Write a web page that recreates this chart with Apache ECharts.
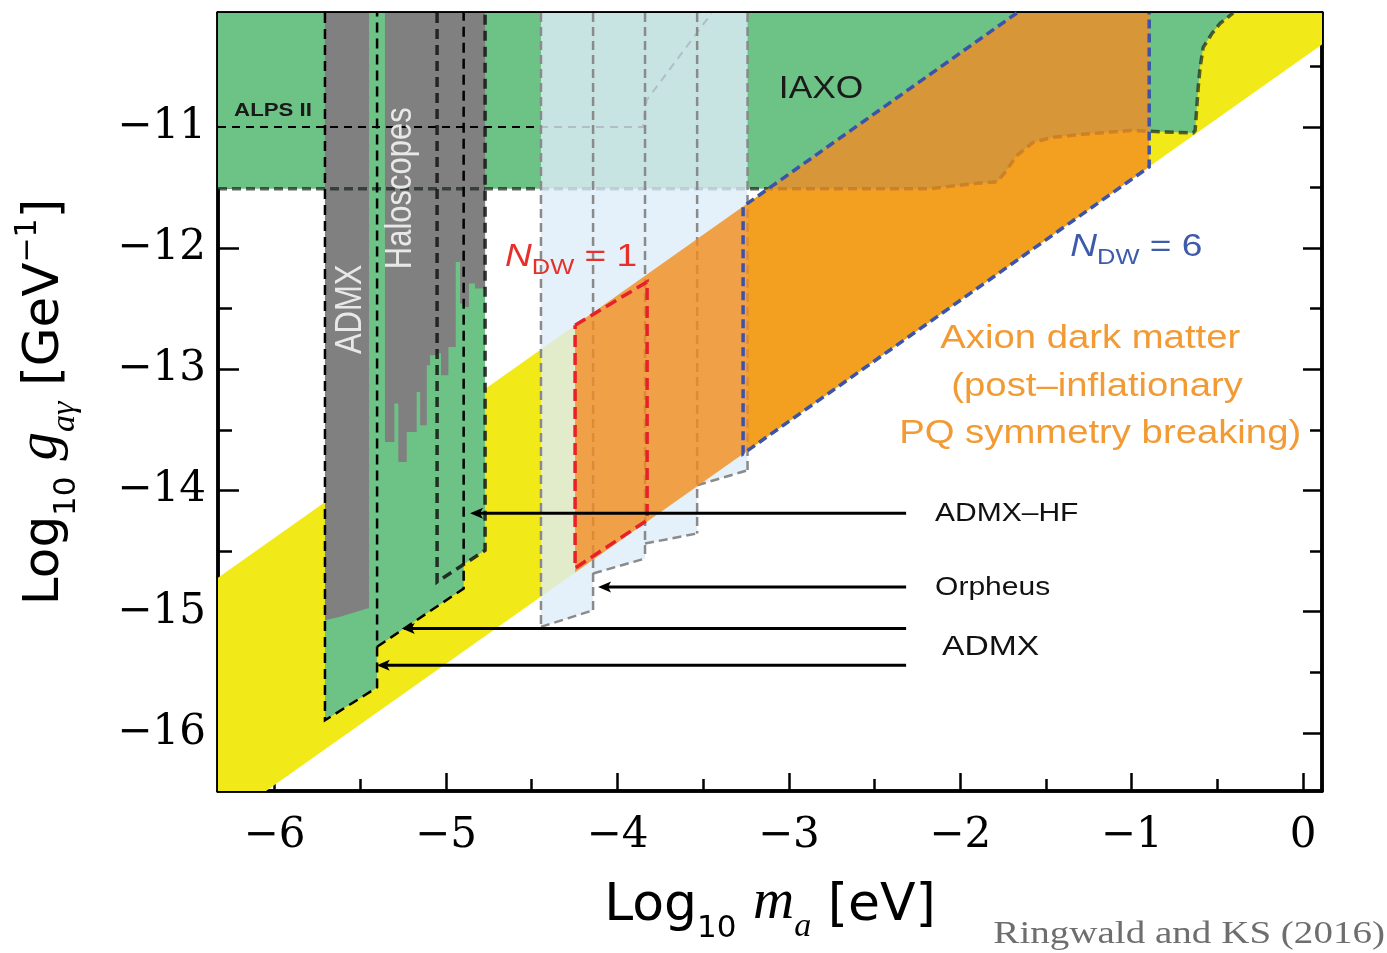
<!DOCTYPE html>
<html><head><meta charset="utf-8">
<script src="https://cdn.jsdelivr.net/npm/echarts@6/dist/echarts.min.js"></script>
<style>html,body{margin:0;padding:0;background:#fff}#c{width:1387px;height:953px}</style>
</head><body><div id="c"></div>
<script>
// ---------- axes ----------
const xRange = [-6.33, 0.11];
const yRange = [-16.48, -10.06];
const xMajorTicks = [-6, -5, -4, -3, -2, -1, 0];
const xMinorTicks = [-5.5, -4.5, -3.5, -2.5, -1.5, -0.5];
const yMajorTicks = [-16, -15, -14, -13, -12, -11];
const yMinorTicks = [-15.5, -14.5, -13.5, -12.5, -11.5, -10.5];

// ---------- regions (log10 m_a [eV], log10 g [GeV^-1]) ----------
const yellowBand = [[-6.33,-14.72],[-1.67,-10.06],[0.11,-10.06],[0.11,-10.32],[-6.05,-16.48],[-6.33,-16.48]];
const iaxoRegion = [[-6.33,-10.06],[-6.33,-11.51],[-2.176,-11.51],[-1.902,-11.465],[-1.785,-11.454],[-1.738,-11.374],
  [-1.674,-11.242],[-1.575,-11.127],[-1.458,-11.086],[-1.283,-11.061],[-1.009,-11.03],[-0.642,-11.05],[-0.63,-11.03],
  [-0.612,-10.673],[-0.601,-10.508],[-0.583,-10.343],[-0.531,-10.228],[-0.484,-10.145],[-0.408,-10.06]];
const alpsLine = [[-6.33,-11.0],[-3.85,-11.0],[-3.83,-10.78],[-3.45,-10.06]];
const admxFutureA = [[-5.706,-10.06],[-5.706,-15.897],[-5.402,-15.625],[-5.402,-10.06]];
const admxFutureB = [[-5.402,-10.06],[-5.402,-15.29],[-4.897,-14.809],[-4.897,-10.06]];
const admxHF = [[-5.052,-10.06],[-5.052,-14.755],[-4.772,-14.494],[-4.772,-10.06]];
const admxGrey = [[-5.706,-10.06],[-5.706,-15.07],[-5.618,-15.043],[-5.449,-14.97],[-5.449,-10.06]];
const haloEdges = [-5.356,-5.301,-5.278,-5.229,-5.171,-5.151,-5.112,-5.093,-5.054,-5.029,-4.986,-4.943,-4.918,-4.889,-4.866,-4.831,-4.772];
const haloBottom = [-13.60,-13.283,-13.765,-13.517,-13.187,-13.462,-12.967,-12.884,-12.868,-13.049,-12.816,-12.114,-12.458,-12.486,-12.293,-12.334];
const stripEdges = [-4.446,-4.142,-3.839,-3.535,-3.241];
const stripBottomLeft = [-15.126,-14.685,-14.438,-13.957];
const stripBottomRight = [-14.988,-14.562,-14.355,-13.833];
const axionDM = [[-4.247,-12.637],[-1.67,-10.06],[-0.898,-10.06],[-0.898,-11.33],[-4.247,-14.677]];
const ndw6Outline = [[-1.67,-10.06],[-3.267,-11.657],[-3.267,-13.697],[-0.898,-11.33],[-0.898,-10.06]];
const ndw1Outline = [[-4.247,-12.636],[-3.827,-12.279],[-3.827,-14.246],[-4.247,-14.641],[-4.247,-12.636]];
const arrowY = [-14.188, -14.796, -15.14, -15.442];
const arrowTipX = [-4.86, -4.113, -5.258, -5.404];
const arrowStartX = -2.316;

// ---------- labels ----------
const labels = [
  {text:'IAXO', x:-2.812, y:-10.69, size:31, color:'#1a1a1a', align:'center', sx:1.14},
  {text:'ALPS II', x:-6.009, y:-10.863, size:19, weight:'bold', color:'#1a1a1a', align:'center', sx:1.17},
  {text:'ADMX', x:-5.554, y:-12.505, size:31, color:'#e8e8e8', align:'center', rot:true},
  {text:'Haloscopes', x:-5.262, y:-11.506, size:31, color:'#e8e8e8', align:'center', rot:true},
  {text:'{N|N}{s|DW}{t| = 1}', x:-4.656, y:-12.10, size:32, color:'#e8302a', align:'left', sx:1.16, rich:true},
  {text:'{N|N}{s|DW}{t| = 6}', x:-1.359, y:-12.018, size:32, color:'#3d5baa', align:'left', sx:1.16, rich:true},
  {text:'Axion dark matter', x:-1.242, y:-12.752, size:33, color:'#f29a33', align:'center', sx:1.16},
  {text:'(post\u2013inflationary', x:-1.202, y:-13.148, size:33, color:'#f29a33', align:'center', sx:1.16},
  {text:'PQ symmetry breaking)', x:-1.184, y:-13.536, size:33, color:'#f29a33', align:'center', sx:1.16},
  {text:'ADMX\u2013HF', x:-2.147, y:-14.196, size:25, color:'#111', align:'left', sx:1.2},
  {text:'Orpheus', x:-2.147, y:-14.807, size:25, color:'#111', align:'left', sx:1.2},
  {text:'ADMX', x:-2.106, y:-15.293, size:28, color:'#111', align:'left', sx:1.2}
];

// ---------- helpers ----------
function polySeries(points, style) {
  return {type:'custom', coordinateSystem:'cartesian2d', silent:true, animation:false,
    data:[points[0]],
    renderItem: (params, api) => ({type:'polygon', shape:{points: points.map(p => api.coord(p))}, style: Object.assign({}, style)})};
}
function lineSeries(points, style) {
  return {type:'custom', coordinateSystem:'cartesian2d', silent:true, animation:false,
    data:[points[0]],
    renderItem: (params, api) => ({type:'polyline', shape:{points: points.map(p => api.coord(p))}, style: Object.assign({fill:'none'}, style)})};
}
const yTop = yRange[1];
const haloPoly = [[haloEdges[0], yTop]];
haloBottom.forEach((b, i) => { haloPoly.push([haloEdges[i], b]); haloPoly.push([haloEdges[i+1], b]); });
haloPoly.push([haloEdges[haloEdges.length-1], yTop]);

const stripPolys = stripBottomLeft.map((bl, i) => [[stripEdges[i], yTop],[stripEdges[i], bl],[stripEdges[i+1], stripBottomRight[i]],[stripEdges[i+1], yTop]]);
const stripLines = [];
stripEdges.forEach((x, i) => {
  const lows = [];
  if (i > 0) lows.push(stripBottomRight[i-1]);
  if (i < stripBottomLeft.length) lows.push(stripBottomLeft[i]);
  stripLines.push([[x, yTop],[x, Math.min(...lows)]]);
});
stripBottomLeft.forEach((bl, i) => stripLines.push([[stripEdges[i], bl],[stripEdges[i+1], stripBottomRight[i]]]));

const dashBlack = {stroke:'#000', lineWidth:2.5, lineDash:[10,6]};
const series = [];
series.push(polySeries(yellowBand, {fill:'#f2ea18'}));
series.push(polySeries(iaxoRegion, {fill:'#6dc286'}));
[admxFutureA, admxFutureB, admxHF].forEach(p => series.push(polySeries(p, {fill:'#6dc286'})));
series.push(polySeries(admxGrey, {fill:'#808080'}));
series.push(polySeries(haloPoly, {fill:'#808080'}));
series.push(lineSeries(iaxoRegion.slice(1), {stroke:'rgba(25,35,25,0.7)', lineWidth:3.5, lineDash:[9,5]}));
series.push(lineSeries(alpsLine, {stroke:'#000', lineWidth:2, lineDash:[8,6]}));
series.push(lineSeries(admxFutureA, dashBlack));
series.push(lineSeries(admxFutureB.slice(1), dashBlack));
series.push(lineSeries(admxHF, {stroke:'rgba(20,20,20,0.85)', lineWidth:3.5, lineDash:[10,6]}));
stripPolys.forEach(p => series.push(polySeries(p, {fill:'rgba(221,236,249,0.8)'})));
stripLines.forEach(l => series.push(lineSeries(l, {stroke:'#8a8a8a', lineWidth:2.5, lineDash:[9,5]})));
series.push(polySeries(axionDM, {fill:'rgba(243,139,36,0.79)'}));
series.push(lineSeries(ndw1Outline, {stroke:'#e8202a', lineWidth:3.5, lineDash:[12,6]}));
series.push(lineSeries(ndw6Outline, {stroke:'#3b54a8', lineWidth:3.5, lineDash:[9,5]}));

// arrows
series.push({type:'custom', coordinateSystem:'cartesian2d', silent:true, animation:false,
  data: arrowY.map((y, i) => [arrowTipX[i], y]),
  renderItem: (params, api) => {
    const i = params.dataIndex;
    const a = api.coord([arrowStartX, arrowY[i]]);
    const b = api.coord([arrowTipX[i], arrowY[i]]);
    return {type:'group', children:[
      {type:'line', shape:{x1:a[0], y1:a[1], x2:b[0]+8, y2:b[1]}, style:{stroke:'#000', lineWidth:3}},
      {type:'polygon', shape:{points:[[b[0], b[1]],[b[0]+13, b[1]-5.5],[b[0]+10, b[1]],[b[0]+13, b[1]+5.5]]}, style:{fill:'#000'}}
    ]};
  }});

// labels
series.push({type:'custom', coordinateSystem:'cartesian2d', silent:true, animation:false,
  data: labels.map(l => [l.x, l.y]),
  renderItem: (params, api) => {
    const L = labels[params.dataIndex];
    const p = api.coord([L.x, L.y]);
    const style = {text:L.text, fill:L.color, fontSize:L.size, fontFamily:'Liberation Sans, Arial, sans-serif',
      fontWeight:L.weight || 'normal', align:L.align, verticalAlign:'middle', x:0, y:0};
    if (L.rich) {
      style.rich = {
        N:{fontStyle:'italic', fontSize:L.size, fill:L.color, color:L.color, fontFamily:'Liberation Sans', padding:[0,0,6,0], verticalAlign:'bottom'},
        s:{fontSize:Math.round(L.size*0.68), fill:L.color, color:L.color, fontFamily:'Liberation Sans', verticalAlign:'bottom'},
        t:{fontSize:L.size, fill:L.color, color:L.color, fontFamily:'Liberation Sans', padding:[0,0,6,0], verticalAlign:'bottom'}
      };
    }
    const el = {type:'text', x:p[0], y:p[1], style};
    if (L.rot) { el.rotation = Math.PI/2; el.scaleY = 1.2; }
    else if (L.sx) { el.scaleX = L.sx; }
    return el;
  }});

const fmt = v => (v < 0 ? '\u2212' + (-v) : String(v));
const axisLineStyle = {color:'#000', width:3.5};
const tickStyle = {color:'#000', width:2.5};
function xAx(pos, ticks, len, showLabel, extra) {
  return Object.assign({type:'value', min:xRange[0], max:xRange[1], position:pos,
    axisLine:{show:true, onZero:false, lineStyle:axisLineStyle},
    axisTick:{show:true, inside:true, length:len, lineStyle:tickStyle, customValues:ticks},
    axisLabel:showLabel ? {show:true, customValues:ticks, formatter:fmt, fontFamily:'DejaVu Serif', fontSize:42, color:'#000', margin:24} : {show:false},
    splitLine:{show:false}}, extra || {});
}
function yAx(pos, ticks, len, showLabel, extra) {
  return Object.assign({type:'value', min:yRange[0], max:yRange[1], position:pos,
    axisLine:{show:true, onZero:false, lineStyle:axisLineStyle},
    axisTick:{show:true, inside:true, length:len, lineStyle:tickStyle, customValues:ticks},
    axisLabel:showLabel ? {show:true, customValues:ticks, formatter:fmt, fontFamily:'DejaVu Serif', fontSize:42, color:'#000', margin:12} : {show:false},
    splitLine:{show:false}}, extra || {});
}
const nameRich = {
  n:{fontSize:52, fontFamily:'DejaVu Sans', color:'#000', padding:[0,0,12,0], verticalAlign:'bottom'},
  s:{fontSize:31, fontFamily:'DejaVu Sans', color:'#000', verticalAlign:'bottom'},
  i:{fontSize:57, fontFamily:'Liberation Serif', fontStyle:'italic', color:'#000', padding:[0,0,12,0], verticalAlign:'bottom'},
  is:{fontSize:34, fontFamily:'Liberation Serif', fontStyle:'italic', color:'#000', verticalAlign:'bottom'},
  sup:{fontSize:30, fontFamily:'DejaVu Sans', color:'#000', verticalAlign:'top'}
};

const option = {
  backgroundColor:'#fff',
  animation:false,
  grid:{left:218, top:13, width:1104, height:778, outerBoundsMode:'none', containLabel:false},
  xAxis:[
    xAx('bottom', xMajorTicks, 18, true, {name:'{n|Log}{s|10}{n| }{i|m}{is|a}{n| [eV]}', nameLocation:'middle', nameGap:84, nameTextStyle:{rich:nameRich}}),
    xAx('bottom', xMinorTicks, 12, false),
    xAx('top', xMajorTicks, 19, false),
    xAx('top', xMinorTicks, 13, false)
  ],
  yAxis:[
    yAx('left', yMajorTicks, 21, true, {name:'{n|Log}{s|10}{n| }{i|g}{is|a\u03b3}{n| [GeV}{sup|\u22121}{n|]}', nameLocation:'middle', nameGap:136,
      nameTextStyle:{rich:Object.assign({}, nameRich, {n:Object.assign({}, nameRich.n, {fontSize:50})})}}),
    yAx('left', yMinorTicks, 14, false),
    yAx('right', yMajorTicks, 19, false),
    yAx('right', yMinorTicks, 12, false)
  ],
  graphic:[{type:'text', x:1385, y:935, scaleX:1.26, silent:true,
    style:{text:'Ringwald and KS (2016)', fill:'#6e6e6e', fontSize:31, fontFamily:'Liberation Serif', align:'right', verticalAlign:'middle'}}],
  series: series
};
const chart = echarts.init(document.getElementById('c'), null, {renderer:'canvas'});
chart.setOption(option);
</script></body></html>
